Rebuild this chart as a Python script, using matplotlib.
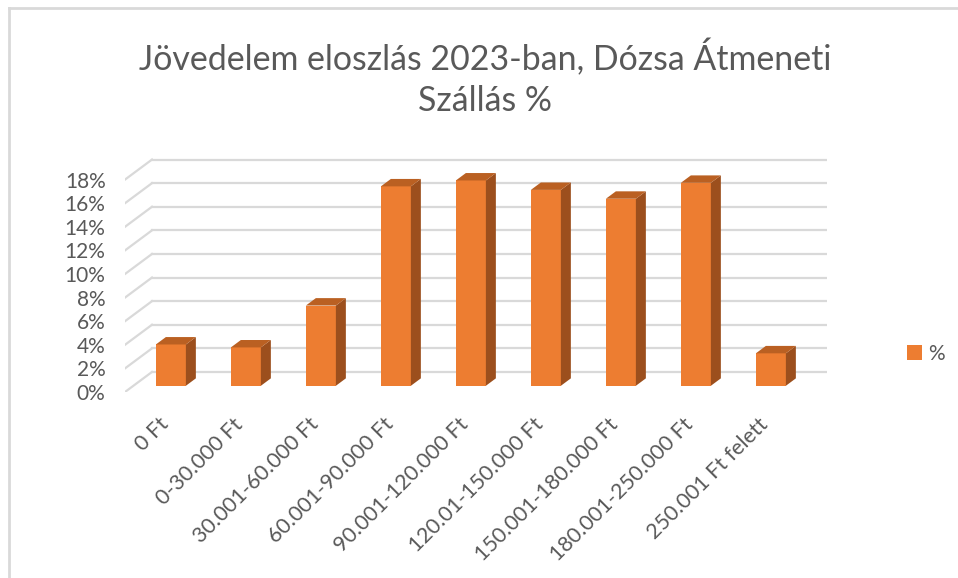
import matplotlib.pyplot as plt
from matplotlib.patches import Polygon

categories = ["0 Ft", "0-30.000 Ft", "30.001-60.000 Ft", "60.001-90.000 Ft",
              "90.001-120.000 Ft", "120.01-150.000 Ft", "150.001-180.000 Ft",
              "180.001-250.000 Ft", "250.001 Ft felett"]
values = [3.5, 3.25, 6.8, 16.9, 17.4, 16.6, 15.85, 17.2, 2.75]
yticks = [0, 2, 4, 6, 8, 10, 12, 14, 16, 18]
title = "Jövedelem eloszlás 2023-ban, Dózsa Átmeneti\nSzállás %"
series_name = "%"

FRONT = "#ED7D31"
SIDE = "#9C4F1D"
TOP = "#BA6022"
GRID = "#D9D9D9"
TXT = "#595959"
plt.rcParams['font.family'] = ['Lato', 'DejaVu Sans']

# depth of the pseudo 3d box (data units)
DX = 0.36
DY = 1.7
Z0, Z1 = 0.31, 0.68
W = 0.4

fig = plt.figure(figsize=(9.58, 5.78), dpi=100)
W_PX, H_PX = 958, 578
px_unit_y = 11.8
ax = fig.add_axes([125 / W_PX, (H_PX - 392) / H_PX, (75 * 9 + 27) / W_PX, 20 * px_unit_y / H_PX])
ax.set_xlim(-0.5, 8.5 + DX)
ax.set_ylim(0, 20)
for s in ax.spines.values():
    s.set_visible(False)

# back wall grid + side wall diagonals
for t in yticks:
    ax.plot([-0.5 + DX, 8.5 + DX], [t + DY, t + DY], color=GRID, lw=1.6, zorder=1)
    ax.plot([-0.5, -0.5 + DX], [t, t + DY], color=GRID, lw=1.6, zorder=1)

x = list(range(len(values)))
xf = [i + Z0 * DX for i in x]
base = Z0 * DY
ax.bar(xf, values, width=W, bottom=base, color=FRONT, zorder=3, label=series_name)
ddx = (Z1 - Z0) * DX
ddy = (Z1 - Z0) * DY
for c, v in zip(xf, values):
    l, r = c - W / 2, c + W / 2
    top = base + v
    ax.add_patch(Polygon([(r, base), (r + ddx, base + ddy), (r + ddx, top + ddy), (r, top)],
                         closed=True, facecolor=SIDE, edgecolor='none', zorder=3))
    ax.add_patch(Polygon([(l, top), (r, top), (r + ddx, top + ddy), (l + ddx, top + ddy)],
                         closed=True, facecolor=TOP, edgecolor='none', zorder=3))

ax.set_yticks(yticks)
ax.set_yticklabels([f"{t}%" for t in yticks], fontsize=15, color=TXT)
ax.set_xticks([i - 0.06 for i in x])
ax.set_xticklabels(categories, fontsize=15.5, color=TXT)
plt.setp(ax.get_xticklabels(), rotation=45, ha='right', rotation_mode='anchor')
ax.tick_params(axis='y', length=0, pad=14)
ax.tick_params(axis='x', length=0, pad=16)

fig.text(485 / W_PX, 1 - 78 / H_PX, title, ha='center', va='center', fontsize=24.4,
         color=TXT, linespacing=1.35)

fig.legend(loc='center left', bbox_to_anchor=(907 / W_PX, 1 - 354 / H_PX), frameon=False,
           fontsize=15, labelcolor=TXT, handlelength=0.7, handleheight=0.7,
           handletextpad=0.3, borderpad=0, borderaxespad=0)

# chart frame (top and left edges visible)
fig.add_artist(plt.Line2D([9 / W_PX, 1], [1 - 8 / H_PX, 1 - 8 / H_PX], color=GRID, lw=2))
fig.add_artist(plt.Line2D([9 / W_PX, 9 / W_PX], [0, 1 - 8 / H_PX], color=GRID, lw=2))

fig.savefig("out.png", dpi=100)
